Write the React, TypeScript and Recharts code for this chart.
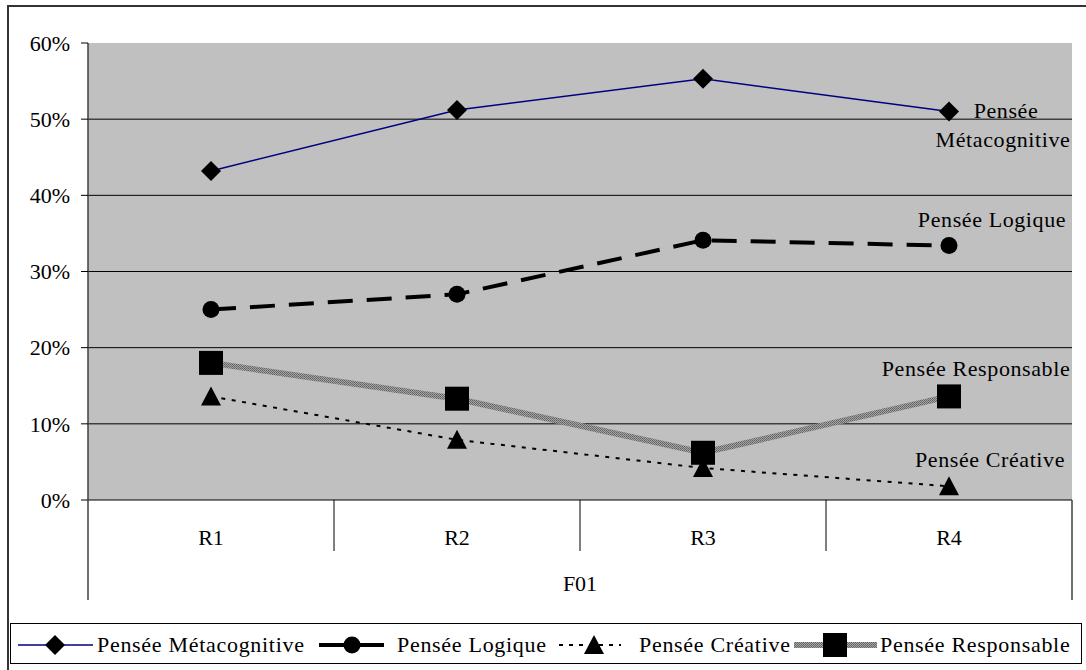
import { LineChart, Line, XAxis, YAxis, CartesianGrid } from "recharts";

const FONT = '"Liberation Serif", "Times New Roman", serif';

// F01 block, rounds R1..R4, share of each kind of thinking (%)
const categories = ["R1", "R2", "R3", "R4"];
const groupLabel = "F01";
const metacognitive = [43.2, 51.2, 55.3, 51.0];
const logique = [25.0, 27.0, 34.1, 33.4];
const creative = [13.6, 7.9, 4.2, 1.8];
const responsable = [18.0, 13.3, 6.2, 13.6];
const yTicks = [0, 10, 20, 30, 40, 50, 60];
const gridValues = [10, 20, 30, 40, 50];

const names = {
  meta: "Pensée Métacognitive",
  logique: "Pensée Logique",
  creative: "Pensée Créative",
  responsable: "Pensée Responsable",
};

const data = categories.map((name, i) => ({
  name,
  meta: metacognitive[i],
  logique: logique[i],
  creative: creative[i],
  responsable: responsable[i],
}));

const lastIndex = categories.length - 1;

const labelText = (x: number, y: number, text: string) => (
  <text x={x} y={y} dy="0.35em" textAnchor="middle" fontSize={22} fontFamily={FONT} fill="#000" letterSpacing={0.6}>
    {text}
  </text>
);

// markers; the last point of each series also carries the series name
const diamondDot = (p: any) => {
  const { cx, cy, index } = p;
  return (
    <g key={`meta-${index}`}>
      <polygon points={`${cx},${cy - 10} ${cx + 10},${cy} ${cx},${cy + 10} ${cx - 10},${cy}`} fill="#000" />
      {index === lastIndex && (
        <>
          {labelText(cx + 57, cy - 1, "Pensée")}
          {labelText(cx + 54, cy + 28, "Métacognitive")}
        </>
      )}
    </g>
  );
};

const circleDot = (p: any) => {
  const { cx, cy, index } = p;
  return (
    <g key={`log-${index}`}>
      <circle cx={cx} cy={cy} r={8.5} fill="#000" />
      {index === lastIndex && labelText(cx + 43, cy - 26, names.logique)}
    </g>
  );
};

const triangleDot = (p: any) => {
  const { cx, cy, index } = p;
  return (
    <g key={`cre-${index}`}>
      <polygon points={`${cx},${cy - 10} ${cx + 10},${cy + 9} ${cx - 10},${cy + 9}`} fill="#000" />
      {index === lastIndex && labelText(cx + 41, cy - 27, names.creative)}
    </g>
  );
};

const squareDot = (p: any) => {
  const { cx, cy, index } = p;
  return (
    <g key={`res-${index}`}>
      <rect x={cx - 12} y={cy - 12} width={24} height={24} fill="#000" />
      {index === lastIndex && labelText(cx + 27, cy - 28, names.responsable)}
    </g>
  );
};

// two-level category axis: round names, separators and the block name
function CategoryTick(props: any) {
  const { x, y, payload, index } = props;
  const half = payload?.offset || 123;
  const last = index === lastIndex;
  return (
    <g>
      <text x={x} y={y + 37} dy="0.35em" textAnchor="middle" fontSize={22} fontFamily={FONT} fill="#000">
        {payload.value}
      </text>
      <line x1={x + half} x2={x + half} y1={y} y2={last ? y + 100 : y + 51} stroke={last ? "#404040" : "#000"} strokeWidth={last ? 1.5 : 1} />
      {index === 0 && <line x1={x - half} x2={x - half} y1={y} y2={y + 100} stroke="#404040" strokeWidth={1.5} />}
      {index === 1 && (
        <text x={x + half} y={y + 83} dy="0.35em" textAnchor="middle" fontSize={22} fontFamily={FONT} fill="#000">
          {groupLabel}
        </text>
      )}
    </g>
  );
}

const legendText: React.CSSProperties = {
  position: "absolute",
  top: 0,
  lineHeight: "42px",
  fontSize: 22,
  letterSpacing: 0.7,
  whiteSpace: "nowrap",
};

function LegendBox() {
  return (
    <div style={{ position: "absolute", left: 10, top: 623, width: 1072, height: 41, border: "1px solid #000", boxSizing: "border-box" }}>
      <svg width={1072} height={41} style={{ position: "absolute", left: 0, top: 0 }}>
        <line x1={7} x2={82} y1={21} y2={21} stroke="#000080" strokeWidth={1.5} />
        <polygon points="44,11 54,21 44,31 34,21" fill="#000" />
        <line x1={308} x2={373} y1={21} y2={21} stroke="#000" strokeWidth={4} />
        <circle cx={341} cy={21} r={8.5} fill="#000" />
        <line x1={548} x2={610} y1={21} y2={21} stroke="#000" strokeWidth={2} strokeDasharray="4 6" />
        <polygon points="583,11 593,30 573,30" fill="#000" />
        <line x1={783} x2={866} y1={21} y2={21} stroke="url(#hatch)" strokeWidth={6} />
        <rect x={812} y={9} width={24} height={24} fill="#000" />
      </svg>
      <span style={{ ...legendText, left: 86 }}>{names.meta}</span>
      <span style={{ ...legendText, left: 386 }}>{names.logique}</span>
      <span style={{ ...legendText, left: 628 }}>{names.creative}</span>
      <span style={{ ...legendText, left: 869 }}>{names.responsable}</span>
    </div>
  );
}

export default function App() {
  return (
    <div style={{ position: "absolute", left: 0, top: 0, width: 1086, height: 670, overflow: "hidden", background: "#fff", fontFamily: FONT }}>
      <svg width={0} height={0} style={{ position: "absolute" }}>
        <defs>
          <pattern id="hatch" patternUnits="userSpaceOnUse" width={2} height={2}>
            <rect width={2} height={2} fill="#a6a6a6" />
            <rect width={1} height={1} fill="#5e5e5e" />
            <rect x={1} y={1} width={1} height={1} fill="#6e6e6e" />
          </pattern>
        </defs>
      </svg>
      <div style={{ position: "absolute", left: 7, top: 5, right: 0, bottom: 0, borderTop: "2px solid #333", borderLeft: "2px solid #333" }} />
      <div style={{ position: "absolute", left: 0, top: 0 }}>
        <LineChart width={1086} height={670} data={data} margin={{ top: 43, right: 14, bottom: 70, left: 0 }}>
          <CartesianGrid fill="#c0c0c0" stroke="#000" vertical={false} horizontalValues={gridValues} />
          <XAxis
            dataKey="name"
            scale="band"
            height={100}
            axisLine={{ stroke: "#000" }}
            tickLine={false}
            tickSize={0}
            tickMargin={0}
            interval={0}
            tick={<CategoryTick />}
          />
          <XAxis xAxisId="top" orientation="top" dataKey="name" scale="band" height={0} tick={false} tickLine={false} axisLine={{ stroke: "#808080", strokeWidth: 2 }} />
          <YAxis
            width={88}
            domain={[0, 60]}
            ticks={yTicks}
            tickFormatter={(v: number) => `${v}%`}
            tickSize={7}
            tickMargin={11}
            tick={{ fontSize: 22, fill: "#000", fontFamily: FONT }}
            tickLine={{ stroke: "#000" }}
            axisLine={{ stroke: "#404040", strokeWidth: 1.5 }}
          />
          <YAxis yAxisId="right" orientation="right" width={0} domain={[0, 60]} tick={false} tickLine={false} axisLine={{ stroke: "#808080", strokeWidth: 2 }} />
          <Line dataKey="meta" name={names.meta} stroke="#000080" strokeWidth={1.5} dot={diamondDot} activeDot={false} isAnimationActive={false} />
          <Line dataKey="logique" name={names.logique} stroke="#000" strokeWidth={4} strokeDasharray="25 14" dot={circleDot} activeDot={false} isAnimationActive={false} />
          <Line dataKey="creative" name={names.creative} stroke="#000" strokeWidth={2} strokeDasharray="4 6.5" dot={triangleDot} activeDot={false} isAnimationActive={false} />
          <Line dataKey="responsable" name={names.responsable} stroke="url(#hatch)" strokeWidth={6} dot={squareDot} activeDot={false} isAnimationActive={false} />
        </LineChart>
      </div>
      <LegendBox />
    </div>
  );
}
